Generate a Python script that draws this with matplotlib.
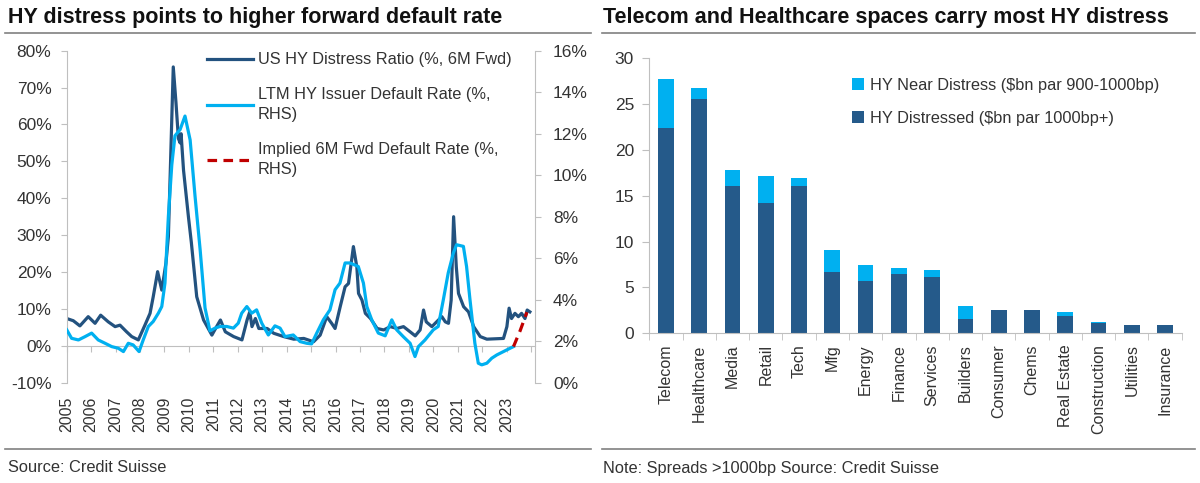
import matplotlib
matplotlib.use("Agg")
import matplotlib.pyplot as plt
import numpy as np
from matplotlib.lines import Line2D
from matplotlib.ticker import FuncFormatter

plt.rcParams['font.family'] = ['Liberation Sans', 'DejaVu Sans']

# --- left chart data (decimal year) ---
distress_dates = [2005.0, 2005.27, 2005.54, 2005.88, 2006.16, 2006.39, 2006.70, 2006.98, 2007.18,
                  2007.45, 2007.66, 2007.93, 2008.2, 2008.41, 2008.54, 2008.72, 2008.89, 2009.06,
                  2009.16, 2009.25, 2009.36, 2009.47, 2009.57, 2009.64, 2009.68, 2009.78, 2009.98,
                  2010.10, 2010.32, 2010.6, 2010.94, 2011.15, 2011.29, 2011.49, 2011.83, 2012.17,
                  2012.38, 2012.49, 2012.58, 2012.72, 2012.86, 2013.2, 2013.47, 2013.88, 2014.29,
                  2014.70, 2015.1, 2015.37, 2015.64, 2015.84, 2015.98, 2016.19, 2016.39, 2016.53,
                  2016.73, 2016.87, 2016.94, 2017.08, 2017.22, 2017.43, 2017.70, 2017.97, 2018.24,
                  2018.51, 2018.78, 2019.05, 2019.26, 2019.46, 2019.6, 2019.71, 2019.94, 2020.21,
                  2020.35, 2020.49, 2020.62, 2020.73, 2020.83, 2020.94, 2021.03, 2021.24, 2021.44,
                  2021.65, 2021.92, 2022.19, 2022.87, 2023.01, 2023.1, 2023.2, 2023.34, 2023.48,
                  2023.61, 2023.75, 2023.84, 2023.95]
distress_ratio = [7.4, 6.8, 5.4, 7.9, 6.1, 8.3, 6.5, 5.2, 5.6,
                  3.8, 2.5, 1.6, 5.6, 8.8, 13.3, 20.1, 15.1, 22.4,
                  29.6, 50.0, 75.6, 66.0, 56.2, 55.0, 57.5, 47.6, 35.0,
                  28.0, 13.3, 7.0, 2.9, 5.4, 7.0, 3.8, 2.5, 1.6,
                  7.0, 9.2, 5.2, 7.4, 4.7, 4.7, 3.4, 2.5, 1.8,
                  2.0, 1.1, 2.9, 7.9, 6.1, 4.7, 10.6, 16.0, 16.9,
                  26.9, 21.4, 14.2, 12.4, 8.8, 7.4, 4.7, 4.3, 5.2,
                  4.7, 5.2, 3.8, 2.7, 4.3, 9.7, 6.5, 5.2, 7.0,
                  7.9, 6.5, 6.1, 12.4, 35.0, 21.4, 14.2, 10.6, 9.2,
                  5.2, 2.5, 1.8, 2.0, 5.2, 10.2, 7.4, 8.8, 7.9,
                  8.8, 7.4, 9.7, 9.2]

default_dates = [2005.0, 2005.2, 2005.48, 2005.75, 2006.02, 2006.29, 2006.57, 2006.84, 2007.11,
                 2007.32, 2007.52, 2007.72, 2007.96, 2008.13, 2008.34, 2008.54, 2008.75, 2008.89,
                 2009.02, 2009.16, 2009.30, 2009.43, 2009.64, 2009.84, 2010.05, 2010.25, 2010.46,
                 2010.66, 2010.86, 2011.07, 2011.27, 2011.55, 2011.82, 2012.02, 2012.16, 2012.37,
                 2012.57, 2012.77, 2012.98, 2013.25, 2013.52, 2013.73, 2013.93, 2014.27, 2014.55,
                 2014.82, 2015.02, 2015.23, 2015.50, 2015.77, 2015.98, 2016.18, 2016.39, 2016.59,
                 2016.93, 2017.14, 2017.28, 2017.48, 2017.75, 2018.03, 2018.3, 2018.5, 2018.77,
                 2019.05, 2019.25, 2019.39, 2019.66, 2020.0, 2020.2, 2020.41, 2020.61, 2020.82,
                 2020.95, 2021.23, 2021.36, 2021.5, 2021.7, 2021.84, 2021.98, 2022.19, 2022.39,
                 2022.6, 2022.87, 2023.14, 2023.28]
default_rate = [2.55, 2.14, 2.06, 2.22, 2.39, 2.06, 1.90, 1.74, 1.66,
                1.50, 1.90, 1.82, 1.50, 2.06, 2.71, 2.95, 3.35, 3.67,
                4.80, 8.02, 10.5, 11.9, 12.2, 12.85, 11.7, 9.0, 6.4,
                3.6, 2.5, 2.63, 2.71, 2.71, 2.63, 2.87, 3.35, 3.67,
                3.35, 3.51, 2.87, 2.30, 2.74, 2.63, 2.22, 2.30, 1.98,
                1.90, 1.87, 2.39, 3.03, 3.51, 4.48, 4.80, 5.77, 5.77,
                5.6, 4.8, 3.67, 3.03, 2.39, 2.26, 3.03, 2.55, 2.22,
                1.90, 1.26, 1.74, 2.06, 2.55, 2.71, 4.0, 5.29, 6.25,
                6.65, 6.57, 5.6, 4.0, 1.9, 0.94, 0.86, 0.94, 1.18,
                1.34, 1.50, 1.66, 1.74]

implied_dates = [2023.28, 2023.55, 2023.83]
implied_rate = [1.74, 2.5, 3.4]

years = list(range(2005, 2025))
year_labels = [str(y) if y <= 2023 else '' for y in years]

# --- right chart data ---
sectors = ['Telecom', 'Healthcare', 'Media', 'Retail', 'Tech', 'Mfg', 'Energy', 'Finance',
           'Services', 'Builders', 'Consumer', 'Chems', 'Real Estate', 'Construction',
           'Utilities', 'Insurance']
distressed = [22.4, 25.6, 16.1, 14.2, 16.05, 6.65, 5.7, 6.5, 6.1, 1.6, 2.55, 2.55, 1.9, 1.1, 0.9, 0.9]
near_distress = [5.3, 1.2, 1.7, 2.95, 0.85, 2.45, 1.7, 0.65, 0.8, 1.4, 0.0, 0.0, 0.4, 0.13, 0.0, 0.0]

DARK = '#23527f'
BAR_DARK = '#255a8a'
LIGHT = '#00b0f0'
RED = '#c00000'
GREY = '#bfbfbf'
TXT = '#333333'

fig = plt.figure(figsize=(12, 4.83), dpi=100)

# titles, rules, footnotes
fig.text(8 / 1200, 1 - 18 / 483, 'HY distress points to higher forward default rate',
         fontsize=15.5, fontweight='bold', color='#111111', va='center', ha='left')
fig.text(603 / 1200, 1 - 18 / 483, 'Telecom and Healthcare spaces carry most HY distress',
         fontsize=15.5, fontweight='bold', color='#111111', va='center', ha='left')
for x0, x1 in [(5, 591), (602, 1195)]:
    for yy in [33, 449]:
        fig.add_artist(Line2D([x0 / 1200, x1 / 1200], [1 - yy / 483, 1 - yy / 483],
                              transform=fig.transFigure, color='#808080', lw=1.2))
fig.text(8 / 1200, 1 - 468 / 483, 'Source: Credit Suisse', fontsize=11.8, color=TXT, va='center')
fig.text(603 / 1200, 1 - 468 / 483, 'Note: Spreads >1000bp Source: Credit Suisse',
         fontsize=11.8, color=TXT, va='center')

# ---------------- left chart ----------------
ax1 = fig.add_axes([66.7 / 1200, 1 - 382.7 / 483, 468.3 / 1200, 332 / 483])
ax2 = ax1.twinx()

ax1.plot(distress_dates, distress_ratio, color=DARK, lw=2.3, label='US HY Distress Ratio (%, 6M Fwd)')
ax2.plot(default_dates, default_rate, color=LIGHT, lw=2.3,
         label='LTM HY Issuer Default Rate (%,\nRHS)')
ax2.plot(implied_dates, implied_rate, color=RED, lw=2.3, dashes=(3, 2),
         label='Implied 6M Fwd Default Rate (%,\nRHS)')

ax1.set_xlim(2005, 2024.16)
ax1.set_ylim(-10, 80)
ax2.set_ylim(0, 16)
ax1.set_yticks(range(-10, 81, 10))
ax2.set_yticks(range(0, 17, 2))
pct = FuncFormatter(lambda v, p: f'{v:.0f}%')
ax1.yaxis.set_major_formatter(pct)
ax2.yaxis.set_major_formatter(pct)

ax1.set_xticks(years)
ax1.set_xticklabels(year_labels, rotation=90, fontsize=11.5, color=TXT)
ax1.tick_params(axis='x', length=0, pad=10)
ax1.tick_params(axis='y', direction='out', length=4, color=GREY, labelsize=12.5, labelcolor=TXT, pad=7)
ax2.tick_params(axis='y', direction='out', length=4, color=GREY, labelsize=12.5, labelcolor=TXT, pad=9)

for a in (ax1, ax2):
    a.spines['top'].set_visible(False)
    a.spines['bottom'].set_visible(False)
    a.spines['left'].set_color(GREY)
    a.spines['right'].set_color(GREY)
ax1.spines['right'].set_visible(False)
ax2.spines['left'].set_visible(False)

# zero line carrying the year tick marks
zero = ax1.secondary_xaxis(10 / 90)
zero.set_xticks(years)
zero.tick_params(axis='x', direction='out', length=4, color=GREY, labelbottom=False, labeltop=False)
for s in zero.spines.values():
    s.set_color(GREY)

h1, l1 = ax1.get_legend_handles_labels()
h2, l2 = ax2.get_legend_handles_labels()
leg = ax2.legend(h1 + h2, l1 + l2, loc='upper left', bbox_to_anchor=(0.30, 0.995), frameon=False,
                 fontsize=11.8, handlelength=2.8, handletextpad=0.3, labelspacing=1.2,
                 borderpad=0, borderaxespad=0, labelcolor=TXT)
for t in leg.get_texts():
    t.set_linespacing(1.45)

# ---------------- right chart ----------------
ax3 = fig.add_axes([649.3 / 1200, 1 - 333.3 / 483, 532.4 / 1200, 275 / 483])
xpos = np.arange(len(sectors))
ax3.bar(xpos, distressed, width=0.47, color=BAR_DARK, label='HY Distressed ($bn par 1000bp+)')
ax3.bar(xpos, near_distress, width=0.47, bottom=distressed, color=LIGHT,
        label='HY Near Distress ($bn par 900-1000bp)')
ax3.set_xlim(-0.5, len(sectors) - 0.5)
ax3.set_ylim(0, 30)
ax3.set_yticks(range(0, 31, 5))
ax3.set_xticks(xpos)
ax3.set_xticklabels(sectors, rotation=90, fontsize=11.5, color=TXT)
ax3.set_xticks(np.arange(-0.5, len(sectors)), minor=True)
ax3.tick_params(axis='x', which='major', length=0, pad=8)
ax3.tick_params(axis='x', which='minor', direction='out', length=5, color=GREY)
ax3.tick_params(axis='y', direction='out', length=5, color=GREY, labelsize=12.5, labelcolor=TXT, pad=6)
ax3.spines['top'].set_visible(False)
ax3.spines['right'].set_visible(False)
ax3.spines['left'].set_color(GREY)
ax3.spines['bottom'].set_color(GREY)

hb, lb = ax3.get_legend_handles_labels()
ax3.legend(hb[::-1], lb[::-1], loc='upper left', bbox_to_anchor=(0.38, 0.928), frameon=False,
           fontsize=11.8, handlelength=0.75, handleheight=0.75, handletextpad=0.35,
           labelspacing=1.1, borderpad=0, borderaxespad=0, labelcolor=TXT)

fig.savefig('out.png', dpi=100)
